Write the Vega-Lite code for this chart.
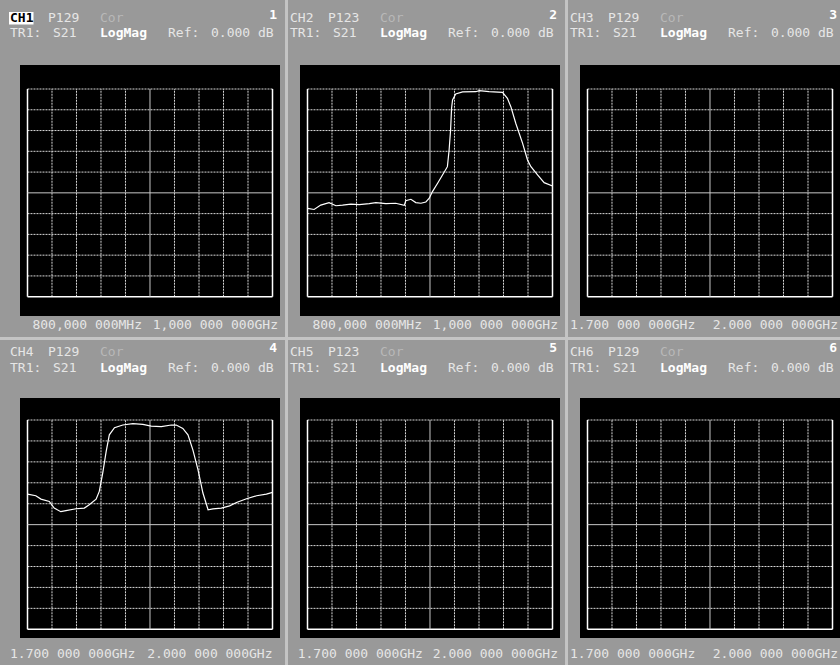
{
"$schema": "https://vega.github.io/schema/vega-lite/v6.json",
"background": "#999999",
"padding": 0,
"spacing": 0,
"data": {"values": [{}]},
"datasets": {
"vdot": [{"d":1},{"d":2},{"d":3},{"d":4},{"d":6},{"d":7},{"d":8},{"d":9}],
"hdot": [{"d":-4},{"d":-3},{"d":-2},{"d":-1},{"d":1},{"d":2},{"d":3},{"d":4},{"d":5}],
"vsolid": [{"d":0},{"d":10}],
"p2": [{"freq":800,"level":-0.75},{"freq":805.4,"level":-0.8},{"freq":810.8,"level":-0.59},{"freq":817.6,"level":-0.47},{"freq":823.2,"level":-0.62},{"freq":828.6,"level":-0.59},{"freq":835.4,"level":-0.54},{"freq":842.2,"level":-0.57},{"freq":850.4,"level":-0.52},{"freq":855.8,"level":-0.47},{"freq":864,"level":-0.52},{"freq":872,"level":-0.5},{"freq":879,"level":-0.6},{"freq":880.2,"level":-0.38},{"freq":884.4,"level":-0.31},{"freq":888.4,"level":-0.47},{"freq":892.6,"level":-0.5},{"freq":896.6,"level":-0.44},{"freq":899.4,"level":-0.26},{"freq":902,"level":0.06},{"freq":906.2,"level":0.46},{"freq":910.2,"level":0.86},{"freq":914.2,"level":1.26},{"freq":915.6,"level":2.06},{"freq":916.8,"level":3.03},{"freq":917.6,"level":4.07},{"freq":918.4,"level":4.47},{"freq":921,"level":4.76},{"freq":926.6,"level":4.86},{"freq":937.4,"level":4.87},{"freq":940.2,"level":4.92},{"freq":948.2,"level":4.87},{"freq":959.2,"level":4.84},{"freq":963.2,"level":4.55},{"freq":966,"level":4.15},{"freq":970,"level":3.35},{"freq":975.6,"level":2.38},{"freq":979.6,"level":1.58},{"freq":982.4,"level":1.26},{"freq":987.8,"level":0.86},{"freq":993.2,"level":0.49},{"freq":1000,"level":0.33}],
"p4": [{"freq":1700,"level":1.46},{"freq":1710.2,"level":1.38},{"freq":1716.5,"level":1.22},{"freq":1726.7,"level":1.11},{"freq":1732.7,"level":0.79},{"freq":1740.8,"level":0.62},{"freq":1747.1,"level":0.67},{"freq":1759.4,"level":0.76},{"freq":1769.6,"level":0.79},{"freq":1775.6,"level":0.95},{"freq":1784,"level":1.22},{"freq":1787.9,"level":1.59},{"freq":1792.1,"level":2.46},{"freq":1796.3,"level":3.49},{"freq":1800.2,"level":4.29},{"freq":1806.5,"level":4.63},{"freq":1816.7,"level":4.76},{"freq":1829,"level":4.83},{"freq":1841.3,"level":4.79},{"freq":1851.5,"level":4.71},{"freq":1863.8,"level":4.68},{"freq":1876.1,"level":4.76},{"freq":1882.1,"level":4.76},{"freq":1890.2,"level":4.6},{"freq":1896.5,"level":4.29},{"freq":1902.5,"level":3.57},{"freq":1908.8,"level":2.62},{"freq":1914.8,"level":1.51},{"freq":1921.1,"level":0.71},{"freq":1927.1,"level":0.75},{"freq":1937.3,"level":0.79},{"freq":1947.5,"level":0.9},{"freq":1955.9,"level":1.06},{"freq":1968.2,"level":1.24},{"freq":1980.5,"level":1.38},{"freq":1992.5,"level":1.46},{"freq":2000,"level":1.54}]
},
"config": {
"view": {"stroke": null},
"axis": {"disable": true},
"text": {"font": "DejaVu Sans Mono", "fontSize": 13, "baseline": "middle", "color": "#e6e6e6"}
},
"vconcat": [
{"hconcat": [
{"width": 280, "height": 337, "layer": [
{"mark": {"type": "rect", "color": "#000000"}, "encoding": {"x": {"datum": -0.306, "type": "quantitative", "scale": {"domain": [-1.1224, 10.3061], "nice": false, "zero": false}, "axis": null}, "x2": {"datum": 10.3061}, "y": {"datum": -5.929, "type": "quantitative", "scale": {"domain": [-6.94, 9.285], "nice": false, "zero": false}, "axis": null}, "y2": {"datum": 6.156}}},
{"data": {"name": "vdot"}, "mark": {"type": "rule", "color": "#d8d8d8", "strokeDash": [2, 1]}, "encoding": {"x": {"field": "d", "type": "quantitative"}, "y": {"datum": -5}, "y2": {"datum": 5}}},
{"data": {"name": "hdot"}, "mark": {"type": "rule", "color": "#d8d8d8", "strokeDash": [2, 1]}, "encoding": {"y": {"field": "d", "type": "quantitative"}, "x": {"datum": 0}, "x2": {"datum": 10}}},
{"data": {"name": "vsolid"}, "mark": {"type": "rule", "color": "#ffffff", "strokeWidth": 1.5}, "encoding": {"x": {"field": "d", "type": "quantitative"}, "y": {"datum": -5}, "y2": {"datum": 5}}},
{"mark": {"type": "rule", "color": "#ffffff", "strokeWidth": 1.5}, "encoding": {"y": {"datum": -5}, "x": {"datum": 0}, "x2": {"datum": 10}}},
{"mark": {"type": "rule", "color": "#c8c8c8"}, "encoding": {"x": {"datum": 5}, "y": {"datum": -5}, "y2": {"datum": 5}}},
{"mark": {"type": "rule", "color": "#c8c8c8"}, "encoding": {"y": {"datum": 0}, "x": {"datum": 0}, "x2": {"datum": 10}}},
{"mark": {"type": "rect", "color": "#ffffff"}, "encoding": {"x": {"datum": -0.755}, "x2": {"datum": 0.245}, "y": {"datum": 8.105}, "y2": {"datum": 8.707}}},
{"mark": {"type": "text", "align": "left", "color": "#000000", "fontWeight": "bold"}, "encoding": {"x": {"datum": -0.714}, "y": {"datum": 8.418}, "text": {"value": "CH1"}}},
{"mark": {"type": "text", "align": "left"}, "encoding": {"x": {"datum": 0.837}, "y": {"datum": 8.418}, "text": {"value": "P129"}}},
{"mark": {"type": "text", "align": "left", "color": "#b8b8b8"}, "encoding": {"x": {"datum": 2.959}, "y": {"datum": 8.418}, "text": {"value": "Cor"}}},
{"mark": {"type": "text", "align": "right", "color": "#ffffff", "fontWeight": "bold"}, "encoding": {"x": {"datum": 10.184}, "y": {"datum": 8.563}, "text": {"value": "1"}}},
{"mark": {"type": "text", "align": "left"}, "encoding": {"x": {"datum": -0.714}, "y": {"datum": 7.72}, "text": {"value": "TR1:"}}},
{"mark": {"type": "text", "align": "left"}, "encoding": {"x": {"datum": 1.041}, "y": {"datum": 7.72}, "text": {"value": "S21"}}},
{"mark": {"type": "text", "align": "left", "color": "#ffffff", "fontWeight": "bold"}, "encoding": {"x": {"datum": 2.959}, "y": {"datum": 7.72}, "text": {"value": "LogMag"}}},
{"mark": {"type": "text", "align": "left"}, "encoding": {"x": {"datum": 5.735}, "y": {"datum": 7.72}, "text": {"value": "Ref:"}}},
{"mark": {"type": "text", "align": "left"}, "encoding": {"x": {"datum": 7.49}, "y": {"datum": 7.72}, "text": {"value": "0.000"}}},
{"mark": {"type": "text", "align": "left"}, "encoding": {"x": {"datum": 9.408}, "y": {"datum": 7.72}, "text": {"value": "dB"}}},
{"mark": {"type": "text", "align": "left"}, "encoding": {"x": {"datum": 0.2}, "y": {"datum": -6.363}, "text": {"value": "800,000 000MHz"}}},
{"mark": {"type": "text", "align": "right"}, "encoding": {"x": {"datum": 10.224}, "y": {"datum": -6.363}, "text": {"value": "1,000 000 000GHz"}}}
]},
{"width": 280, "height": 337, "resolve": {"scale": {"x": "independent"}}, "layer": [
{"layer": [
{"mark": {"type": "rect", "color": "#000000"}, "encoding": {"x": {"datum": -0.306, "type": "quantitative", "scale": {"domain": [-1.1224, 10.3061], "nice": false, "zero": false}, "axis": null}, "x2": {"datum": 10.3061}, "y": {"datum": -5.929, "type": "quantitative", "scale": {"domain": [-6.94, 9.285], "nice": false, "zero": false}, "axis": null}, "y2": {"datum": 6.156}}},
{"mark": {"type": "rect", "color": "#c4c4c4"}, "encoding": {"x": {"datum": -0.918}, "x2": {"datum": -0.796}, "y": {"datum": -6.94}, "y2": {"datum": 9.285}}},
{"data": {"name": "vdot"}, "mark": {"type": "rule", "color": "#d8d8d8", "strokeDash": [2, 1]}, "encoding": {"x": {"field": "d", "type": "quantitative"}, "y": {"datum": -5}, "y2": {"datum": 5}}},
{"data": {"name": "hdot"}, "mark": {"type": "rule", "color": "#d8d8d8", "strokeDash": [2, 1]}, "encoding": {"y": {"field": "d", "type": "quantitative"}, "x": {"datum": 0}, "x2": {"datum": 10}}},
{"data": {"name": "vsolid"}, "mark": {"type": "rule", "color": "#ffffff", "strokeWidth": 1.5}, "encoding": {"x": {"field": "d", "type": "quantitative"}, "y": {"datum": -5}, "y2": {"datum": 5}}},
{"mark": {"type": "rule", "color": "#ffffff", "strokeWidth": 1.5}, "encoding": {"y": {"datum": -5}, "x": {"datum": 0}, "x2": {"datum": 10}}},
{"mark": {"type": "rule", "color": "#c8c8c8"}, "encoding": {"x": {"datum": 5}, "y": {"datum": -5}, "y2": {"datum": 5}}},
{"mark": {"type": "rule", "color": "#c8c8c8"}, "encoding": {"y": {"datum": 0}, "x": {"datum": 0}, "x2": {"datum": 10}}},
{"mark": {"type": "text", "align": "left"}, "encoding": {"x": {"datum": -0.714}, "y": {"datum": 8.418}, "text": {"value": "CH2"}}},
{"mark": {"type": "text", "align": "left"}, "encoding": {"x": {"datum": 0.837}, "y": {"datum": 8.418}, "text": {"value": "P123"}}},
{"mark": {"type": "text", "align": "left", "color": "#b8b8b8"}, "encoding": {"x": {"datum": 2.959}, "y": {"datum": 8.418}, "text": {"value": "Cor"}}},
{"mark": {"type": "text", "align": "right", "color": "#ffffff", "fontWeight": "bold"}, "encoding": {"x": {"datum": 10.184}, "y": {"datum": 8.563}, "text": {"value": "2"}}},
{"mark": {"type": "text", "align": "left"}, "encoding": {"x": {"datum": -0.714}, "y": {"datum": 7.72}, "text": {"value": "TR1:"}}},
{"mark": {"type": "text", "align": "left"}, "encoding": {"x": {"datum": 1.041}, "y": {"datum": 7.72}, "text": {"value": "S21"}}},
{"mark": {"type": "text", "align": "left", "color": "#ffffff", "fontWeight": "bold"}, "encoding": {"x": {"datum": 2.959}, "y": {"datum": 7.72}, "text": {"value": "LogMag"}}},
{"mark": {"type": "text", "align": "left"}, "encoding": {"x": {"datum": 5.735}, "y": {"datum": 7.72}, "text": {"value": "Ref:"}}},
{"mark": {"type": "text", "align": "left"}, "encoding": {"x": {"datum": 7.49}, "y": {"datum": 7.72}, "text": {"value": "0.000"}}},
{"mark": {"type": "text", "align": "left"}, "encoding": {"x": {"datum": 9.408}, "y": {"datum": 7.72}, "text": {"value": "dB"}}},
{"mark": {"type": "text", "align": "left"}, "encoding": {"x": {"datum": 0.2}, "y": {"datum": -6.363}, "text": {"value": "800,000 000MHz"}}},
{"mark": {"type": "text", "align": "right"}, "encoding": {"x": {"datum": 10.224}, "y": {"datum": -6.363}, "text": {"value": "1,000 000 000GHz"}}}
]},
{"data": {"name": "p2"}, "mark": {"type": "line", "color": "#ffffff", "strokeWidth": 1.2}, "encoding": {"x": {"field": "freq", "type": "quantitative", "scale": {"domain": [777.55, 1006.12], "nice": false, "zero": false}, "axis": null}, "y": {"field": "level", "type": "quantitative"}}}
]},
{"width": 280, "height": 337, "layer": [
{"mark": {"type": "rect", "color": "#000000"}, "encoding": {"x": {"datum": -0.306, "type": "quantitative", "scale": {"domain": [-1.1224, 10.3061], "nice": false, "zero": false}, "axis": null}, "x2": {"datum": 10.3061}, "y": {"datum": -5.929, "type": "quantitative", "scale": {"domain": [-6.94, 9.285], "nice": false, "zero": false}, "axis": null}, "y2": {"datum": 6.156}}},
{"mark": {"type": "rect", "color": "#c4c4c4"}, "encoding": {"x": {"datum": -0.918}, "x2": {"datum": -0.796}, "y": {"datum": -6.94}, "y2": {"datum": 9.285}}},
{"data": {"name": "vdot"}, "mark": {"type": "rule", "color": "#d8d8d8", "strokeDash": [2, 1]}, "encoding": {"x": {"field": "d", "type": "quantitative"}, "y": {"datum": -5}, "y2": {"datum": 5}}},
{"data": {"name": "hdot"}, "mark": {"type": "rule", "color": "#d8d8d8", "strokeDash": [2, 1]}, "encoding": {"y": {"field": "d", "type": "quantitative"}, "x": {"datum": 0}, "x2": {"datum": 10}}},
{"data": {"name": "vsolid"}, "mark": {"type": "rule", "color": "#ffffff", "strokeWidth": 1.5}, "encoding": {"x": {"field": "d", "type": "quantitative"}, "y": {"datum": -5}, "y2": {"datum": 5}}},
{"mark": {"type": "rule", "color": "#ffffff", "strokeWidth": 1.5}, "encoding": {"y": {"datum": -5}, "x": {"datum": 0}, "x2": {"datum": 10}}},
{"mark": {"type": "rule", "color": "#c8c8c8"}, "encoding": {"x": {"datum": 5}, "y": {"datum": -5}, "y2": {"datum": 5}}},
{"mark": {"type": "rule", "color": "#c8c8c8"}, "encoding": {"y": {"datum": 0}, "x": {"datum": 0}, "x2": {"datum": 10}}},
{"mark": {"type": "text", "align": "left"}, "encoding": {"x": {"datum": -0.714}, "y": {"datum": 8.418}, "text": {"value": "CH3"}}},
{"mark": {"type": "text", "align": "left"}, "encoding": {"x": {"datum": 0.837}, "y": {"datum": 8.418}, "text": {"value": "P129"}}},
{"mark": {"type": "text", "align": "left", "color": "#b8b8b8"}, "encoding": {"x": {"datum": 2.959}, "y": {"datum": 8.418}, "text": {"value": "Cor"}}},
{"mark": {"type": "text", "align": "right", "color": "#ffffff", "fontWeight": "bold"}, "encoding": {"x": {"datum": 10.184}, "y": {"datum": 8.563}, "text": {"value": "3"}}},
{"mark": {"type": "text", "align": "left"}, "encoding": {"x": {"datum": -0.714}, "y": {"datum": 7.72}, "text": {"value": "TR1:"}}},
{"mark": {"type": "text", "align": "left"}, "encoding": {"x": {"datum": 1.041}, "y": {"datum": 7.72}, "text": {"value": "S21"}}},
{"mark": {"type": "text", "align": "left", "color": "#ffffff", "fontWeight": "bold"}, "encoding": {"x": {"datum": 2.959}, "y": {"datum": 7.72}, "text": {"value": "LogMag"}}},
{"mark": {"type": "text", "align": "left"}, "encoding": {"x": {"datum": 5.735}, "y": {"datum": 7.72}, "text": {"value": "Ref:"}}},
{"mark": {"type": "text", "align": "left"}, "encoding": {"x": {"datum": 7.49}, "y": {"datum": 7.72}, "text": {"value": "0.000"}}},
{"mark": {"type": "text", "align": "left"}, "encoding": {"x": {"datum": 9.408}, "y": {"datum": 7.72}, "text": {"value": "dB"}}},
{"mark": {"type": "text", "align": "left"}, "encoding": {"x": {"datum": -0.714}, "y": {"datum": -6.363}, "text": {"value": "1.700 000 000GHz"}}},
{"mark": {"type": "text", "align": "right"}, "encoding": {"x": {"datum": 10.224}, "y": {"datum": -6.363}, "text": {"value": "2.000 000 000GHz"}}}
]}
], "spacing": 0},
{"hconcat": [
{"width": 280, "height": 328, "resolve": {"scale": {"x": "independent"}}, "layer": [
{"layer": [
{"mark": {"type": "rect", "color": "#000000"}, "encoding": {"x": {"datum": -0.306, "type": "quantitative", "scale": {"domain": [-1.1224, 10.3061], "nice": false, "zero": false}, "axis": null}, "x2": {"datum": 10.3061}, "y": {"datum": -5.416, "type": "quantitative", "scale": {"domain": [-6.706, 8.966], "nice": false, "zero": false}, "axis": null}, "y2": {"datum": 6.051}}},
{"mark": {"type": "rect", "color": "#c4c4c4"}, "encoding": {"y": {"datum": 8.966}, "y2": {"datum": 8.823}, "x": {"datum": -1.1224}, "x2": {"datum": 10.3061}}},
{"data": {"name": "vdot"}, "mark": {"type": "rule", "color": "#d8d8d8", "strokeDash": [2, 1]}, "encoding": {"x": {"field": "d", "type": "quantitative"}, "y": {"datum": -5}, "y2": {"datum": 5}}},
{"data": {"name": "hdot"}, "mark": {"type": "rule", "color": "#d8d8d8", "strokeDash": [2, 1]}, "encoding": {"y": {"field": "d", "type": "quantitative"}, "x": {"datum": 0}, "x2": {"datum": 10}}},
{"data": {"name": "vsolid"}, "mark": {"type": "rule", "color": "#ffffff", "strokeWidth": 1.5}, "encoding": {"x": {"field": "d", "type": "quantitative"}, "y": {"datum": -5}, "y2": {"datum": 5}}},
{"mark": {"type": "rule", "color": "#ffffff", "strokeWidth": 1.5}, "encoding": {"y": {"datum": -5}, "x": {"datum": 0}, "x2": {"datum": 10}}},
{"mark": {"type": "rule", "color": "#c8c8c8"}, "encoding": {"x": {"datum": 5}, "y": {"datum": -5}, "y2": {"datum": 5}}},
{"mark": {"type": "rule", "color": "#c8c8c8"}, "encoding": {"y": {"datum": 0}, "x": {"datum": 0}, "x2": {"datum": 10}}},
{"mark": {"type": "text", "align": "left"}, "encoding": {"x": {"datum": -0.714}, "y": {"datum": 8.263}, "text": {"value": "CH4"}}},
{"mark": {"type": "text", "align": "left"}, "encoding": {"x": {"datum": 0.837}, "y": {"datum": 8.263}, "text": {"value": "P129"}}},
{"mark": {"type": "text", "align": "left", "color": "#b8b8b8"}, "encoding": {"x": {"datum": 2.959}, "y": {"datum": 8.263}, "text": {"value": "Cor"}}},
{"mark": {"type": "text", "align": "right", "color": "#ffffff", "fontWeight": "bold"}, "encoding": {"x": {"datum": 10.184}, "y": {"datum": 8.44}, "text": {"value": "4"}}},
{"mark": {"type": "text", "align": "left"}, "encoding": {"x": {"datum": -0.714}, "y": {"datum": 7.508}, "text": {"value": "TR1:"}}},
{"mark": {"type": "text", "align": "left"}, "encoding": {"x": {"datum": 1.041}, "y": {"datum": 7.508}, "text": {"value": "S21"}}},
{"mark": {"type": "text", "align": "left", "color": "#ffffff", "fontWeight": "bold"}, "encoding": {"x": {"datum": 2.959}, "y": {"datum": 7.508}, "text": {"value": "LogMag"}}},
{"mark": {"type": "text", "align": "left"}, "encoding": {"x": {"datum": 5.735}, "y": {"datum": 7.508}, "text": {"value": "Ref:"}}},
{"mark": {"type": "text", "align": "left"}, "encoding": {"x": {"datum": 7.49}, "y": {"datum": 7.508}, "text": {"value": "0.000"}}},
{"mark": {"type": "text", "align": "left"}, "encoding": {"x": {"datum": 9.408}, "y": {"datum": 7.508}, "text": {"value": "dB"}}},
{"mark": {"type": "text", "align": "left"}, "encoding": {"x": {"datum": -0.714}, "y": {"datum": -6.18}, "text": {"value": "1.700 000 000GHz"}}},
{"mark": {"type": "text", "align": "right"}, "encoding": {"x": {"datum": 10.0}, "y": {"datum": -6.18}, "text": {"value": "2.000 000 000GHz"}}}
]},
{"data": {"name": "p4"}, "mark": {"type": "line", "color": "#ffffff", "strokeWidth": 1.2}, "encoding": {"x": {"field": "freq", "type": "quantitative", "scale": {"domain": [1666.33, 2009.18], "nice": false, "zero": false}, "axis": null}, "y": {"field": "level", "type": "quantitative"}}}
]},
{"width": 280, "height": 328, "layer": [
{"mark": {"type": "rect", "color": "#000000"}, "encoding": {"x": {"datum": -0.306, "type": "quantitative", "scale": {"domain": [-1.1224, 10.3061], "nice": false, "zero": false}, "axis": null}, "x2": {"datum": 10.3061}, "y": {"datum": -5.416, "type": "quantitative", "scale": {"domain": [-6.706, 8.966], "nice": false, "zero": false}, "axis": null}, "y2": {"datum": 6.051}}},
{"mark": {"type": "rect", "color": "#c4c4c4"}, "encoding": {"x": {"datum": -0.918}, "x2": {"datum": -0.796}, "y": {"datum": -6.706}, "y2": {"datum": 8.966}}},
{"mark": {"type": "rect", "color": "#c4c4c4"}, "encoding": {"y": {"datum": 8.966}, "y2": {"datum": 8.823}, "x": {"datum": -1.1224}, "x2": {"datum": 10.3061}}},
{"data": {"name": "vdot"}, "mark": {"type": "rule", "color": "#d8d8d8", "strokeDash": [2, 1]}, "encoding": {"x": {"field": "d", "type": "quantitative"}, "y": {"datum": -5}, "y2": {"datum": 5}}},
{"data": {"name": "hdot"}, "mark": {"type": "rule", "color": "#d8d8d8", "strokeDash": [2, 1]}, "encoding": {"y": {"field": "d", "type": "quantitative"}, "x": {"datum": 0}, "x2": {"datum": 10}}},
{"data": {"name": "vsolid"}, "mark": {"type": "rule", "color": "#ffffff", "strokeWidth": 1.5}, "encoding": {"x": {"field": "d", "type": "quantitative"}, "y": {"datum": -5}, "y2": {"datum": 5}}},
{"mark": {"type": "rule", "color": "#ffffff", "strokeWidth": 1.5}, "encoding": {"y": {"datum": -5}, "x": {"datum": 0}, "x2": {"datum": 10}}},
{"mark": {"type": "rule", "color": "#c8c8c8"}, "encoding": {"x": {"datum": 5}, "y": {"datum": -5}, "y2": {"datum": 5}}},
{"mark": {"type": "rule", "color": "#c8c8c8"}, "encoding": {"y": {"datum": 0}, "x": {"datum": 0}, "x2": {"datum": 10}}},
{"mark": {"type": "text", "align": "left"}, "encoding": {"x": {"datum": -0.714}, "y": {"datum": 8.263}, "text": {"value": "CH5"}}},
{"mark": {"type": "text", "align": "left"}, "encoding": {"x": {"datum": 0.837}, "y": {"datum": 8.263}, "text": {"value": "P123"}}},
{"mark": {"type": "text", "align": "left", "color": "#b8b8b8"}, "encoding": {"x": {"datum": 2.959}, "y": {"datum": 8.263}, "text": {"value": "Cor"}}},
{"mark": {"type": "text", "align": "right", "color": "#ffffff", "fontWeight": "bold"}, "encoding": {"x": {"datum": 10.184}, "y": {"datum": 8.44}, "text": {"value": "5"}}},
{"mark": {"type": "text", "align": "left"}, "encoding": {"x": {"datum": -0.714}, "y": {"datum": 7.508}, "text": {"value": "TR1:"}}},
{"mark": {"type": "text", "align": "left"}, "encoding": {"x": {"datum": 1.041}, "y": {"datum": 7.508}, "text": {"value": "S21"}}},
{"mark": {"type": "text", "align": "left", "color": "#ffffff", "fontWeight": "bold"}, "encoding": {"x": {"datum": 2.959}, "y": {"datum": 7.508}, "text": {"value": "LogMag"}}},
{"mark": {"type": "text", "align": "left"}, "encoding": {"x": {"datum": 5.735}, "y": {"datum": 7.508}, "text": {"value": "Ref:"}}},
{"mark": {"type": "text", "align": "left"}, "encoding": {"x": {"datum": 7.49}, "y": {"datum": 7.508}, "text": {"value": "0.000"}}},
{"mark": {"type": "text", "align": "left"}, "encoding": {"x": {"datum": 9.408}, "y": {"datum": 7.508}, "text": {"value": "dB"}}},
{"mark": {"type": "text", "align": "left"}, "encoding": {"x": {"datum": -0.4}, "y": {"datum": -6.18}, "text": {"value": "1.700 000 000GHz"}}},
{"mark": {"type": "text", "align": "right"}, "encoding": {"x": {"datum": 10.224}, "y": {"datum": -6.18}, "text": {"value": "2.000 000 000GHz"}}}
]},
{"width": 280, "height": 328, "layer": [
{"mark": {"type": "rect", "color": "#000000"}, "encoding": {"x": {"datum": -0.306, "type": "quantitative", "scale": {"domain": [-1.1224, 10.3061], "nice": false, "zero": false}, "axis": null}, "x2": {"datum": 10.3061}, "y": {"datum": -5.416, "type": "quantitative", "scale": {"domain": [-6.706, 8.966], "nice": false, "zero": false}, "axis": null}, "y2": {"datum": 6.051}}},
{"mark": {"type": "rect", "color": "#c4c4c4"}, "encoding": {"x": {"datum": -0.918}, "x2": {"datum": -0.796}, "y": {"datum": -6.706}, "y2": {"datum": 8.966}}},
{"mark": {"type": "rect", "color": "#c4c4c4"}, "encoding": {"y": {"datum": 8.966}, "y2": {"datum": 8.823}, "x": {"datum": -1.1224}, "x2": {"datum": 10.3061}}},
{"data": {"name": "vdot"}, "mark": {"type": "rule", "color": "#d8d8d8", "strokeDash": [2, 1]}, "encoding": {"x": {"field": "d", "type": "quantitative"}, "y": {"datum": -5}, "y2": {"datum": 5}}},
{"data": {"name": "hdot"}, "mark": {"type": "rule", "color": "#d8d8d8", "strokeDash": [2, 1]}, "encoding": {"y": {"field": "d", "type": "quantitative"}, "x": {"datum": 0}, "x2": {"datum": 10}}},
{"data": {"name": "vsolid"}, "mark": {"type": "rule", "color": "#ffffff", "strokeWidth": 1.5}, "encoding": {"x": {"field": "d", "type": "quantitative"}, "y": {"datum": -5}, "y2": {"datum": 5}}},
{"mark": {"type": "rule", "color": "#ffffff", "strokeWidth": 1.5}, "encoding": {"y": {"datum": -5}, "x": {"datum": 0}, "x2": {"datum": 10}}},
{"mark": {"type": "rule", "color": "#c8c8c8"}, "encoding": {"x": {"datum": 5}, "y": {"datum": -5}, "y2": {"datum": 5}}},
{"mark": {"type": "rule", "color": "#c8c8c8"}, "encoding": {"y": {"datum": 0}, "x": {"datum": 0}, "x2": {"datum": 10}}},
{"mark": {"type": "text", "align": "left"}, "encoding": {"x": {"datum": -0.714}, "y": {"datum": 8.263}, "text": {"value": "CH6"}}},
{"mark": {"type": "text", "align": "left"}, "encoding": {"x": {"datum": 0.837}, "y": {"datum": 8.263}, "text": {"value": "P129"}}},
{"mark": {"type": "text", "align": "left", "color": "#b8b8b8"}, "encoding": {"x": {"datum": 2.959}, "y": {"datum": 8.263}, "text": {"value": "Cor"}}},
{"mark": {"type": "text", "align": "right", "color": "#ffffff", "fontWeight": "bold"}, "encoding": {"x": {"datum": 10.184}, "y": {"datum": 8.44}, "text": {"value": "6"}}},
{"mark": {"type": "text", "align": "left"}, "encoding": {"x": {"datum": -0.714}, "y": {"datum": 7.508}, "text": {"value": "TR1:"}}},
{"mark": {"type": "text", "align": "left"}, "encoding": {"x": {"datum": 1.041}, "y": {"datum": 7.508}, "text": {"value": "S21"}}},
{"mark": {"type": "text", "align": "left", "color": "#ffffff", "fontWeight": "bold"}, "encoding": {"x": {"datum": 2.959}, "y": {"datum": 7.508}, "text": {"value": "LogMag"}}},
{"mark": {"type": "text", "align": "left"}, "encoding": {"x": {"datum": 5.735}, "y": {"datum": 7.508}, "text": {"value": "Ref:"}}},
{"mark": {"type": "text", "align": "left"}, "encoding": {"x": {"datum": 7.49}, "y": {"datum": 7.508}, "text": {"value": "0.000"}}},
{"mark": {"type": "text", "align": "left"}, "encoding": {"x": {"datum": 9.408}, "y": {"datum": 7.508}, "text": {"value": "dB"}}},
{"mark": {"type": "text", "align": "left"}, "encoding": {"x": {"datum": -0.714}, "y": {"datum": -6.18}, "text": {"value": "1.700 000 000GHz"}}},
{"mark": {"type": "text", "align": "right"}, "encoding": {"x": {"datum": 10.224}, "y": {"datum": -6.18}, "text": {"value": "2.000 000 000GHz"}}}
]}
], "spacing": 0}
]
}
